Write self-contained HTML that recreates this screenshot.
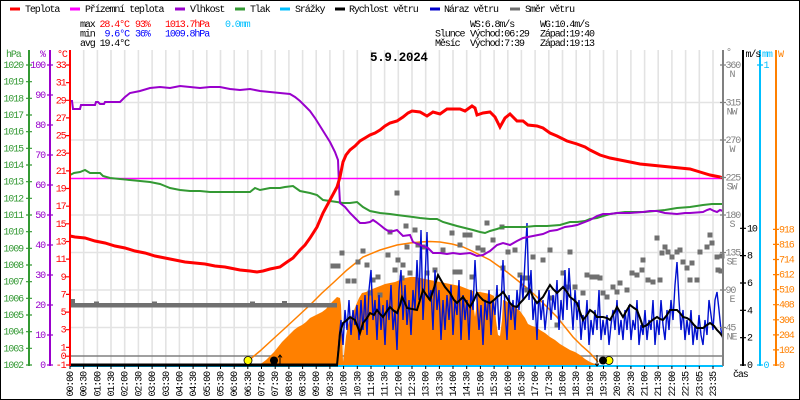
<!DOCTYPE html>
<html><head><meta charset="utf-8"><style>
html,body{margin:0;padding:0;background:#fff}
svg{display:block}
text{font-family:"Liberation Mono","DejaVu Sans Mono",monospace;font-size:10px;letter-spacing:-1.1px}
.t{font-weight:bold;font-size:12.5px;letter-spacing:-0.3px}
</style></head><body>
<svg width="800" height="400" viewBox="0 0 800 400" xmlns="http://www.w3.org/2000/svg">
<rect x="0" y="0" width="800" height="400" fill="#fff"/>
<rect x="0.5" y="0.5" width="799" height="399" fill="none" stroke="#000" stroke-width="1"/>

<!-- legend -->
<g stroke-width="3">
<line x1="10" y1="9" x2="20" y2="9" stroke="#ff0000"/>
<line x1="70" y1="9" x2="80" y2="9" stroke="#ff00ff"/>
<line x1="175" y1="9" x2="185" y2="9" stroke="#9900cc"/>
<line x1="235" y1="9" x2="245" y2="9" stroke="#339933"/>
<line x1="280" y1="9" x2="290" y2="9" stroke="#00bfff"/>
<line x1="335" y1="9" x2="345" y2="9" stroke="#000"/>
<line x1="430" y1="9" x2="440" y2="9" stroke="#0000cc"/>
<line x1="510" y1="9" x2="520" y2="9" stroke="#707070"/>
</g>
<g fill="#000">
<text x="25" y="12">Teplota</text>
<text x="85" y="12">Přízemní teplota</text>
<text x="190" y="12">Vlhkost</text>
<text x="250" y="12">Tlak</text>
<text x="295" y="12">Srážky</text>
<text x="349" y="12">Rychlost větru</text>
<text x="444" y="12">Náraz větru</text>
<text x="525" y="12">Směr větru</text>
</g>

<!-- stats -->
<text x="80" y="27">max</text>
<text x="99.5" y="27" fill="#ff0000">28.4°C</text>
<text x="135" y="27" fill="#ff0000">93%</text>
<text x="165" y="27" fill="#ff0000">1013.7hPa</text>
<text x="225" y="27" fill="#00bfff">0.0mm</text>
<text x="80" y="36.5">min</text>
<text x="104.5" y="36.5" fill="#0000ff">9.6°C</text>
<text x="135" y="36.5" fill="#0000ff">36%</text>
<text x="165" y="36.5" fill="#0000ff">1009.8hPa</text>
<text x="80" y="46">avg 19.4°C</text>
<text x="470" y="27">WS:6.8m/s</text>
<text x="540" y="27">WG:10.4m/s</text>
<text x="435" y="36.5">Slunce</text>
<text x="470" y="36.5">Východ:06:29</text>
<text x="540" y="36.5">Západ:19:40</text>
<text x="435" y="46">Měsíc</text>
<text x="470" y="46">Východ:7:39</text>
<text x="540" y="46">Západ:19:13</text>

<!-- grid -->
<path fill="none" stroke="#e3e3e3" stroke-width="1.6" d="M83.7 50V365 M97.4 50V365 M111 50V365 M124.7 50V365 M138.4 50V365 M152.1 50V365 M165.8 50V365 M179.4 50V365 M193.1 50V365 M206.8 50V365 M220.5 50V365 M234.2 50V365 M247.8 50V365 M261.5 50V365 M275.2 50V365 M288.9 50V365 M302.6 50V365 M316.2 50V365 M329.9 50V365 M343.6 50V365 M357.3 50V365 M371 50V365 M384.6 50V365 M398.3 50V365 M412 50V365 M425.7 50V365 M439.4 50V365 M453 50V365 M466.7 50V365 M480.4 50V365 M494.1 50V365 M507.8 50V365 M521.4 50V365 M535.1 50V365 M548.8 50V365 M562.5 50V365 M576.2 50V365 M589.8 50V365 M603.5 50V365 M617.2 50V365 M630.9 50V365 M644.6 50V365 M658.2 50V365 M671.9 50V365 M685.6 50V365 M699.3 50V365 M713 50V365 M70 102.5H723 M70 140H723 M70 215H723 M70 252.5H723 M70 290H723 M70 327.5H723"/>

<text class="t" x="370" y="61">5.9.2024</text>

<!-- reference lines -->
<line x1="70" y1="356" x2="723" y2="356" stroke="#808080" stroke-width="1.5"/>
<line x1="70" y1="178.5" x2="723" y2="178.5" stroke="#ff00ff" stroke-width="1.5"/>

<!-- solar area -->
<polygon fill="#ff8000" points="258,365 262,363 266,360 270,356 274,352 278,347 282,342 286,338 290,334 294,330 298,327 302,325 306,322 310,318 314,316 318,314 322,312 326,309 330,304 333,301 335,299 337,297 340,298 341,305 342,330 343,362 344,355 346,336 348,325 350,319 353,313 356,305 359,298 362,293 366,292 370,290 375,288 380,286 385,284 390,283 395,282 400,280 405,278 410,277 415,277 420,278 425,279 430,280 435,281 440,282 445,283 450,284 455,285 460,286 465,288 470,290 473,291 474,310 475,317 476,310 477,292 480,292 485,293 490,294 494,296 496,320 498,335 500,336 502,320 503,300 506,301 510,304 515,307 520,311 525,318 528,324 532,326 536,327 540,330 545,333 550,337 555,340 560,344 565,347 570,350 575,352 580,355 585,359 590,362 595,364 598,365"/>
<!-- theoretical solar -->
<polyline fill="none" stroke="#ff8000" stroke-width="1.5" points="248,361 260,351 272,340 283,330 296,318 310,305 322,293 333,283 347,270 363,257 380,250 397,245 410,243 420,242 430,241.5 440,242 452,244 463,247 472,251 480,255 490,260 497,265 507,272 517,280 527,288 537,297 547,307 557,317 565,327 573,337 582,346 590,353 598,362"/>

<!-- wind direction -->
<rect x="70" y="303" width="267" height="4.5" fill="#707070"/>
<path fill="#707070" d="M70 299h5v5h-5z M94 301.5h5v5h-5z M152 301.5h5v5h-5z M250 301.5h5v5h-5z M282 301h5v5h-5z M339.5 250.5h5v5h-5z M330.5 263.5h5v5h-5z M335.5 263.5h5v5h-5z M345.5 278.5h5v5h-5z M351.5 278.5h5v5h-5z M355.5 259.5h5v5h-5z M360.5 248.5h5v5h-5z M364.5 262.5h5v5h-5z M370.5 277.5h5v5h-5z M375.5 274.5h5v5h-5z M367.5 290.5h5v5h-5z M377.5 292.5h5v5h-5z M385.5 252.5h5v5h-5z M387.5 229.5h5v5h-5z M392.5 267.5h5v5h-5z M395.5 257.5h5v5h-5z M400.5 262.5h5v5h-5z M399.5 275.5h5v5h-5z M404.5 244.5h5v5h-5z M403.5 223.5h5v5h-5z M412.5 227.5h5v5h-5z M407.5 270.5h5v5h-5z M415.5 242.5h5v5h-5z M420.5 244.5h5v5h-5z M424.5 270.5h5v5h-5z M432.5 267.5h5v5h-5z M440.5 247.5h5v5h-5z M449.5 230.5h5v5h-5z M452.5 269.5h5v5h-5z M457.5 269.5h5v5h-5z M457.5 242.5h5v5h-5z M462.5 232.5h5v5h-5z M467.5 232.5h5v5h-5z M469.5 274.5h5v5h-5z M475.5 245.5h5v5h-5z M480.5 247.5h5v5h-5z M484.5 220.5h5v5h-5z M490.5 237.5h5v5h-5z M499.5 224.5h5v5h-5z M500.5 265.5h5v5h-5z M505.5 249.5h5v5h-5z M512.5 247.5h5v5h-5z M517.5 272.5h5v5h-5z M520.5 275.5h5v5h-5z M525.5 275.5h5v5h-5z M524.5 287.5h5v5h-5z M530.5 254.5h5v5h-5z M540.5 257.5h5v5h-5z M547.5 247.5h5v5h-5z M549.5 295.5h5v5h-5z M554.5 322.5h5v5h-5z M560.5 270.5h5v5h-5z M564.5 284.5h5v5h-5z M567.5 249.5h5v5h-5z M572.5 284.5h5v5h-5z M580.5 290.5h5v5h-5z M584.5 272.5h5v5h-5z M589.5 274.5h5v5h-5z M594.5 274.5h5v5h-5z M597.5 275.5h5v5h-5z M600.5 290.5h5v5h-5z M604.5 294.5h5v5h-5z M610.5 284.5h5v5h-5z M614.5 289.5h5v5h-5z M617.5 280.5h5v5h-5z M624.5 287.5h5v5h-5z M629.5 270.5h5v5h-5z M634.5 272.5h5v5h-5z M639.5 267.5h5v5h-5z M640.5 257.5h5v5h-5z M645.5 277.5h5v5h-5z M650.5 279.5h5v5h-5z M654.5 235.5h5v5h-5z M657.5 277.5h5v5h-5z M659.5 250.5h5v5h-5z M662.5 244.5h5v5h-5z M665.5 249.5h5v5h-5z M669.5 254.5h5v5h-5z M674.5 249.5h5v5h-5z M677.5 247.5h5v5h-5z M680.5 259.5h5v5h-5z M684.5 265.5h5v5h-5z M687.5 277.5h5v5h-5z M689.5 260.5h5v5h-5z M694.5 277.5h5v5h-5z M697.5 249.5h5v5h-5z M704.5 244.5h5v5h-5z M707.5 232.5h5v5h-5z M709.5 240.5h5v5h-5z M714.5 254.5h5v5h-5z M715.5 267.5h5v5h-5z M718.5 268.5h5v5h-5z M719.5 253.5h5v5h-5z M394.5 190.5h5v5h-5z"/>

<!-- bottom baselines -->
<line x1="70" y1="366" x2="723" y2="366" stroke="#00bfff" stroke-width="2"/>
<line x1="70" y1="365" x2="338" y2="365" stroke="#000" stroke-width="3"/>

<!-- gust -->
<polyline fill="none" stroke="#0010d0" stroke-width="1.4" points="337,365 339,340 341,320 343,345 345,310 347,330 349,300 351,335 353,310 355,325 357,305 359,340 361,300 363,330 365,295 367,335 369,290 371,270 373,320 375,300 377,340 379,295 381,330 383,305 385,345 387,300 389,320 391,285 393,330 395,310 397,350 399,290 401,270 403,320 405,285 407,325 409,300 411,335 413,290 415,310 417,260 419,300 421,230 423,320 425,280 427,232 429,300 431,290 433,330 435,270 437,310 439,290 441,340 443,300 445,330 447,295 449,320 451,285 453,335 455,300 457,315 459,280 461,340 463,295 465,320 467,300 469,340 471,290 473,310 475,260 477,300 479,330 481,305 483,345 485,300 487,320 489,290 491,335 493,300 495,315 497,285 499,330 501,305 503,260 505,310 507,340 509,295 511,320 513,300 515,330 517,290 519,310 521,275 523,300 525,260 527,223 529,300 531,270 533,320 535,300 537,340 539,290 541,320 543,300 545,330 547,310 549,290 551,320 553,295 555,310 557,280 559,330 561,300 563,320 565,270 567,310 569,268 571,300 573,330 575,290 577,320 579,300 581,340 583,315 585,330 587,300 589,345 591,320 593,335 595,310 597,330 599,290 601,340 603,320 605,335 607,315 609,345 611,325 613,310 615,330 617,300 619,335 621,320 623,340 625,310 627,330 629,305 631,340 633,320 635,330 637,300 639,345 641,325 643,335 645,310 647,340 649,320 651,330 653,300 655,345 657,320 659,335 661,300 663,325 665,340 667,310 669,330 671,300 673,320 675,285 677,262 679,300 681,330 683,310 685,340 687,320 689,335 691,310 693,345 695,325 697,340 699,315 701,335 703,345 705,320 707,335 709,300 711,315 713,330 715,300 717,292 719,310 721,330 723,340"/>

<!-- wind speed -->
<polyline fill="none" stroke="#000" stroke-width="2" points="337,365 339,345 340,333 343,323 347,320 350,317 355,320 360,333 363,323 367,318 370,313 374,315 377,310 380,314 383,317 387,311 390,307 394,311 397,313 400,305 402,297 405,303 407,308 412,309 417,310 420,300 423,290 427,296 430,300 434,288 438,275 442,282 445,287 450,293 454,300 457,303 460,300 463,297 467,303 470,307 474,300 477,293 480,297 483,300 487,302 490,303 494,300 497,297 500,295 503,292 507,298 510,303 513,306 517,307 520,303 523,300 527,295 530,290 533,297 537,303 540,300 543,297 547,290 550,285 553,289 557,293 560,290 563,287 567,292 570,297 574,300 577,303 580,312 583,320 587,315 590,310 594,313 597,317 600,317 603,317 607,318 610,320 614,313 617,307 620,312 623,317 627,310 630,305 634,308 637,310 640,318 643,327 647,325 650,322 654,319 657,317 660,319 663,320 667,315 670,310 674,310 677,310 680,313 683,317 687,318 690,320 694,325 697,328 700,328 703,328 707,325 710,323 714,326 717,330 720,333 723,337"/>

<!-- pressure -->
<polyline fill="none" stroke="#339933" stroke-width="2" points="70,175 74,173 80,172 85,170 90,173 100,173 103,176 110,178 120,179 130,180 140,181 150,182 160,184 165,186 170,188 180,190 190,191 200,191 210,192 220,192 230,192 240,192 250,192 255,188 260,190 265,189 270,188 280,188 285,187 293,186 300,191 310,193 317,195 323,200 330,201 337,202 343,203 350,203 357,202 363,207 370,211 380,213 390,214 397,215 405,216 413,217 420,218 430,219 437,219 443,222 450,224 457,226 465,228 473,230 480,232 485,233 490,231 497,229 503,227 515,227 525,227 535,226 547,226 560,225 570,222 577,222 585,221 590,219 597,218 603,216 610,214 617,213 625,212 635,212 645,212 655,211 665,210 677,208 690,207 703,205 712,204 723,204"/>

<!-- humidity -->
<polyline fill="none" stroke="#9900cc" stroke-width="2" points="70,101 72,101 73,109 80,109 81,105 95,105 96,102 98,102 100,104 104,104 105,102 120,102 125,97 130,93 140,91 150,88 160,87 170,88 180,86 190,87 200,88 210,87 220,87 230,89 240,90 250,89 260,91 270,92 280,93 290,94 295,97 300,101 305,106 310,111 315,118 320,126 325,134 330,142 335,152 338,160 339,185 340,203 345,207 350,213 355,218 360,223 365,223 370,222 373,220 376,222 380,225 385,229 390,232 397,230 403,236 410,235 413,242 420,245 428,248 433,253 440,253 447,254 453,253 460,254 470,253 477,256 483,255 490,251 497,245 503,243 510,245 517,241 523,238 533,236 543,234 550,231 557,230 565,227 572,226 577,225 585,222 590,220 597,216 603,214 610,214 617,213 630,213 643,212 650,211 657,211 665,213 677,214 685,213 690,213 703,212 707,210 710,209 714,211 717,212 720,210 723,211"/>

<!-- temperature -->
<polyline fill="none" stroke="#ff0000" stroke-width="3" points="70,236 75,237 85,238 95,241 105,243 115,246 125,248 135,251 145,253 155,256 165,258 175,260 185,262 195,263 205,264 215,266 225,267 230,268 240,270 250,271 257,272 263,271 270,269 280,267 287,262 293,258 300,250 305,245 310,238 317,227 323,213 330,200 337,187 340,177 343,162 346,155 350,150 355,146 360,141 365,138 370,135 375,133 380,130 385,126 390,123 397,121 403,117 408,113 412,111 420,112 427,116 433,112 440,114 447,109 455,109 460,109 465,111 472,106 475,108 477,115 483,113 490,112 495,117 500,127 505,118 510,114 517,121 523,121 528,125 537,126 543,128 550,133 557,136 567,141 577,144 585,147 590,150 600,155 610,158 620,160 630,162 640,164 650,165 660,166 670,167 680,168 690,169 700,172 710,175 720,177 723,178"/>

<!-- sun / moon markers -->
<circle cx="248" cy="360.5" r="4" fill="#ffff00" stroke="#000" stroke-width="0.8"/>
<circle cx="274" cy="360.5" r="4" fill="#000"/>
<path d="M280 366V355 M278 357.5L280 355L282 357.5" stroke="#000" stroke-width="1" fill="none"/>
<circle cx="609" cy="360.5" r="4" fill="#ffff00" stroke="#000" stroke-width="0.8"/>
<circle cx="603" cy="360.5" r="4" fill="#000"/>
<path d="M597 355V366 M595 363.5L597 366L599 363.5" stroke="#000" stroke-width="1" fill="none"/>

<!-- axes -->
<line x1="29" y1="50" x2="29" y2="366" stroke="#339933" stroke-width="2"/>
<line x1="50" y1="50" x2="50" y2="366" stroke="#9900cc" stroke-width="2"/>
<line x1="70" y1="50" x2="70" y2="366" stroke="#ff0000" stroke-width="2"/>
<line x1="723" y1="50" x2="723" y2="366" stroke="#808080" stroke-width="2"/>
<line x1="743" y1="50" x2="743" y2="366" stroke="#000" stroke-width="2"/>
<line x1="760" y1="50" x2="760" y2="366" stroke="#00bfff" stroke-width="2"/>
<line x1="776" y1="50" x2="776" y2="366" stroke="#ff8000" stroke-width="2"/>

<!-- axis headers -->
<text x="6" y="57" fill="#339933">hPa</text>
<text x="40" y="57" fill="#9900cc">%</text>
<text x="57" y="57" fill="#ff0000">°C</text>
<text x="726" y="55" fill="#808080">°</text>
<text x="745.5" y="57" fill="#000">m/s</text>
<text x="762" y="57" fill="#00bfff">mm</text>
<text x="778" y="57" fill="#ff8000">W</text>

<!-- pressure ticks -->
<path stroke="#339933" stroke-width="1.2" d="M26 65H32M26 81.7H32M26 98.3H32M26 115H32M26 131.7H32M26 148.3H32M26 165H32M26 181.7H32M26 198.3H32M26 215H32M26 231.7H32M26 248.3H32M26 265H32M26 281.7H32M26 298.3H32M26 315H32M26 331.7H32M26 348.3H32M26 365H32"/>
<g fill="#339933" text-anchor="end">
<text x="23" y="68">1020</text><text x="23" y="84.7">1019</text><text x="23" y="101.3">1018</text><text x="23" y="118">1017</text><text x="23" y="134.7">1016</text><text x="23" y="151.3">1015</text><text x="23" y="168">1014</text><text x="23" y="184.7">1013</text><text x="23" y="201.3">1012</text><text x="23" y="218">1011</text><text x="23" y="234.7">1010</text><text x="23" y="251.3">1009</text><text x="23" y="268">1008</text><text x="23" y="284.7">1007</text><text x="23" y="301.3">1006</text><text x="23" y="318">1005</text><text x="23" y="334.7">1004</text><text x="23" y="351.3">1003</text><text x="23" y="368">1002</text>
</g>
<!-- humidity ticks -->
<path stroke="#9900cc" stroke-width="1.2" d="M47 65H53M47 95H53M47 125H53M47 155H53M47 185H53M47 215H53M47 245H53M47 275H53M47 305H53M47 335H53M47 365H53"/>
<g fill="#9900cc" text-anchor="end">
<text x="45" y="68">100</text><text x="45" y="98">90</text><text x="45" y="128">80</text><text x="45" y="158">70</text><text x="45" y="188">60</text><text x="45" y="218">50</text><text x="45" y="248">40</text><text x="45" y="278">30</text><text x="45" y="308">20</text><text x="45" y="338">10</text><text x="45" y="368">0</text>
</g>
<!-- temperature ticks -->
<path stroke="#ff0000" stroke-width="1.2" d="M66 65H70M66 82.6H70M66 100.3H70M66 117.9H70M66 135.6H70M66 153.2H70M66 170.9H70M66 188.5H70M66 206.2H70M66 223.8H70M66 241.5H70M66 259.1H70M66 276.8H70M66 294.4H70M66 312.1H70M66 329.7H70M66 347.4H70M66 356.2H70M66 365H70"/>
<g fill="#ff0000" text-anchor="end">
<text x="65.5" y="68">33</text><text x="65.5" y="85.6">31</text><text x="65.5" y="103.3">29</text><text x="65.5" y="120.9">27</text><text x="65.5" y="138.6">25</text><text x="65.5" y="156.2">23</text><text x="65.5" y="173.9">21</text><text x="65.5" y="191.5">19</text><text x="65.5" y="209.2">17</text><text x="65.5" y="226.8">15</text><text x="65.5" y="244.5">13</text><text x="65.5" y="262.1">11</text><text x="65.5" y="279.8">9</text><text x="65.5" y="297.4">7</text><text x="65.5" y="315.1">5</text><text x="65.5" y="332.7">3</text><text x="65.5" y="350.4">1</text><text x="65.5" y="359.2">0</text><text x="65.5" y="368">-1</text>
</g>

<!-- direction axis -->
<path stroke="#808080" stroke-width="1.2" d="M720 65H726M720 102.5H726M720 140H726M720 177.5H726M720 215H726M720 252.5H726M720 290H726M720 327.5H726"/>
<g fill="#808080">
<text x="725.5" y="68">360</text><text x="725.5" y="105.5">315</text><text x="725.5" y="143">270</text><text x="725.5" y="180.5">225</text><text x="725.5" y="218">180</text><text x="725.5" y="255.5">135</text><text x="725.5" y="293">90</text><text x="725.5" y="330.5">45</text>
</g>
<g fill="#808080" text-anchor="middle">
<text x="732" y="77">N</text><text x="731.5" y="114.5">NW</text><text x="732" y="152">W</text><text x="731.5" y="189.5">SW</text><text x="732" y="227">S</text><text x="731.5" y="264.5">SE</text><text x="732" y="302">E</text><text x="731.5" y="339.5">NE</text>
</g>
<!-- wind speed axis -->
<path stroke="#000" stroke-width="1.2" d="M740 365H746M740 337.7H746M740 310.3H746M740 283H746M740 255.6H746M740 228.3H746"/>
<g fill="#000">
<text x="747" y="368">0</text><text x="747" y="340.7">2</text><text x="747" y="313.3">4</text><text x="747" y="286">6</text><text x="747" y="258.6">8</text><text x="747" y="231.3">10</text>
</g>
<!-- rain axis -->
<path stroke="#00bfff" stroke-width="1.2" d="M757 65H763M757 365H763"/>
<text x="763.5" y="68" fill="#00bfff">1</text>
<text x="763.5" y="368" fill="#00bfff">0</text>
<!-- solar axis -->
<path stroke="#ff8000" stroke-width="1.2" d="M773 365H779M773 349.9H779M773 334.9H779M773 319.8H779M773 304.7H779M773 289.7H779M773 274.6H779M773 259.5H779M773 244.4H779M773 229.4H779"/>
<g fill="#ff8000">
<text x="779" y="368">0</text><text x="779" y="352.9">102</text><text x="779" y="337.9">204</text><text x="779" y="322.8">306</text><text x="779" y="307.7">408</text><text x="779" y="292.7">510</text><text x="779" y="277.6">612</text><text x="779" y="262.5">714</text><text x="779" y="247.4">816</text><text x="779" y="232.4">918</text>
</g>

<text x="733" y="377">čas</text>

<!-- x ticks -->
<path stroke="#000" stroke-width="1" d="M70 366V369M83.7 366V369M97.4 366V369M111 366V369M124.7 366V369M138.4 366V369M152.1 366V369M165.8 366V369M179.4 366V369M193.1 366V369M206.8 366V369M220.5 366V369M234.2 366V369M247.8 366V369M261.5 366V369M275.2 366V369M288.9 366V369M302.6 366V369M316.2 366V369M329.9 366V369M343.6 366V369M357.3 366V369M371 366V369M384.6 366V369M398.3 366V369M412 366V369M425.7 366V369M439.4 366V369M453 366V369M466.7 366V369M480.4 366V369M494.1 366V369M507.8 366V369M521.4 366V369M535.1 366V369M548.8 366V369M562.5 366V369M576.2 366V369M589.8 366V369M603.5 366V369M617.2 366V369M630.9 366V369M644.6 366V369M658.2 366V369M671.9 366V369M685.6 366V369M699.3 366V369M713 366V369"/>

<!-- time labels -->
<g fill="#000" text-anchor="end">
<text x="73" y="372" transform="rotate(-90 73 372)">00:00</text>
<text x="86.7" y="372" transform="rotate(-90 86.7 372)">00:30</text>
<text x="100.4" y="372" transform="rotate(-90 100.4 372)">01:00</text>
<text x="114" y="372" transform="rotate(-90 114 372)">01:30</text>
<text x="127.7" y="372" transform="rotate(-90 127.7 372)">02:00</text>
<text x="141.4" y="372" transform="rotate(-90 141.4 372)">02:30</text>
<text x="155.1" y="372" transform="rotate(-90 155.1 372)">03:00</text>
<text x="168.8" y="372" transform="rotate(-90 168.8 372)">03:30</text>
<text x="182.4" y="372" transform="rotate(-90 182.4 372)">04:00</text>
<text x="196.1" y="372" transform="rotate(-90 196.1 372)">04:30</text>
<text x="209.8" y="372" transform="rotate(-90 209.8 372)">05:00</text>
<text x="223.5" y="372" transform="rotate(-90 223.5 372)">05:30</text>
<text x="237.2" y="372" transform="rotate(-90 237.2 372)">06:00</text>
<text x="250.8" y="372" transform="rotate(-90 250.8 372)">06:30</text>
<text x="264.5" y="372" transform="rotate(-90 264.5 372)">07:00</text>
<text x="278.2" y="372" transform="rotate(-90 278.2 372)">07:30</text>
<text x="291.9" y="372" transform="rotate(-90 291.9 372)">08:00</text>
<text x="305.6" y="372" transform="rotate(-90 305.6 372)">08:30</text>
<text x="319.2" y="372" transform="rotate(-90 319.2 372)">09:00</text>
<text x="332.9" y="372" transform="rotate(-90 332.9 372)">09:30</text>
<text x="346.6" y="372" transform="rotate(-90 346.6 372)">10:00</text>
<text x="360.3" y="372" transform="rotate(-90 360.3 372)">10:30</text>
<text x="374" y="372" transform="rotate(-90 374 372)">11:00</text>
<text x="387.6" y="372" transform="rotate(-90 387.6 372)">11:30</text>
<text x="401.3" y="372" transform="rotate(-90 401.3 372)">12:00</text>
<text x="415" y="372" transform="rotate(-90 415 372)">12:30</text>
<text x="428.7" y="372" transform="rotate(-90 428.7 372)">13:00</text>
<text x="442.4" y="372" transform="rotate(-90 442.4 372)">13:30</text>
<text x="456" y="372" transform="rotate(-90 456 372)">14:00</text>
<text x="469.7" y="372" transform="rotate(-90 469.7 372)">14:30</text>
<text x="483.4" y="372" transform="rotate(-90 483.4 372)">15:00</text>
<text x="497.1" y="372" transform="rotate(-90 497.1 372)">15:30</text>
<text x="510.8" y="372" transform="rotate(-90 510.8 372)">16:00</text>
<text x="524.4" y="372" transform="rotate(-90 524.4 372)">16:30</text>
<text x="538.1" y="372" transform="rotate(-90 538.1 372)">17:00</text>
<text x="551.8" y="372" transform="rotate(-90 551.8 372)">17:30</text>
<text x="565.5" y="372" transform="rotate(-90 565.5 372)">18:00</text>
<text x="579.2" y="372" transform="rotate(-90 579.2 372)">18:30</text>
<text x="592.8" y="372" transform="rotate(-90 592.8 372)">19:00</text>
<text x="606.5" y="372" transform="rotate(-90 606.5 372)">19:30</text>
<text x="620.2" y="372" transform="rotate(-90 620.2 372)">20:00</text>
<text x="633.9" y="372" transform="rotate(-90 633.9 372)">20:30</text>
<text x="647.6" y="372" transform="rotate(-90 647.6 372)">21:00</text>
<text x="661.2" y="372" transform="rotate(-90 661.2 372)">21:30</text>
<text x="674.9" y="372" transform="rotate(-90 674.9 372)">22:00</text>
<text x="688.6" y="372" transform="rotate(-90 688.6 372)">22:35</text>
<text x="702.3" y="372" transform="rotate(-90 702.3 372)">23:05</text>
<text x="716" y="372" transform="rotate(-90 716 372)">23:35</text>
</g>
</svg>
</body></html>
